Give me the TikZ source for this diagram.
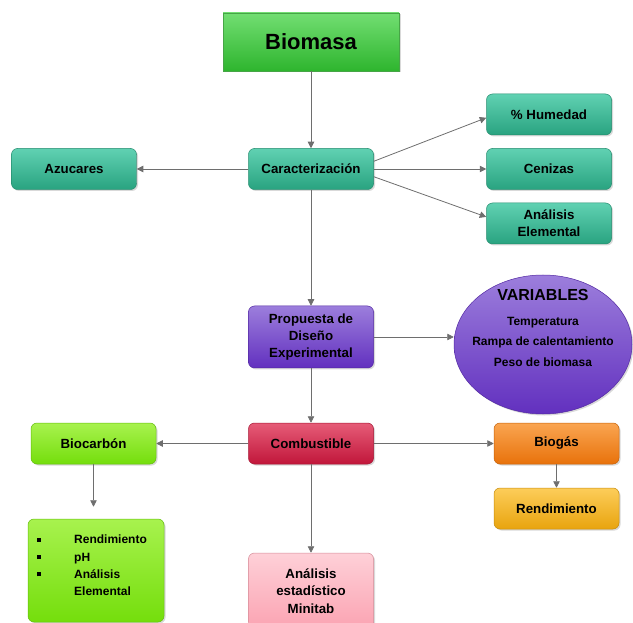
\documentclass[tikz,border=0pt]{standalone}
\usepackage{fontspec}
\setmainfont{Liberation Sans}
\usetikzlibrary{arrows.meta, shadows, shapes.geometric}
\definecolor{linegray}{HTML}{6E6E6E}
\definecolor{greentop}{HTML}{72DE72}
\definecolor{greenbot}{HTML}{2EB52E}
\definecolor{tealtop}{HTML}{60D1B2}
\definecolor{tealbot}{HTML}{29A380}
\definecolor{violettop}{HTML}{9C7EDC}
\definecolor{violetbot}{HTML}{6230BF}
\definecolor{redtop}{HTML}{E65C78}
\definecolor{redbot}{HTML}{C1163A}
\definecolor{limetop}{HTML}{A8F24E}
\definecolor{limebot}{HTML}{74DE0C}
\definecolor{orangetop}{HTML}{FAA551}
\definecolor{orangebot}{HTML}{E8720B}
\definecolor{yellowtop}{HTML}{FDCD5A}
\definecolor{yellowbot}{HTML}{E8A40E}
\definecolor{pinktop}{HTML}{FED0D8}
\definecolor{pinkbot}{HTML}{FBA3B2}
\tikzset{
  box/.style={rounded corners=6pt, top color=#1top, bottom color=#1bot,
    draw=#1bot!85!black, line width=0.5pt, minimum width=125pt,
    minimum height=41pt, align=center, inner sep=2pt,
    drop shadow={shadow xshift=1.5pt, shadow yshift=-1.5pt, opacity=0.3}},
  link/.style={draw=linegray, line width=0.8pt, -{Triangle[length=6.5pt,width=6.5pt]}}
}

\begin{document}
\begin{tikzpicture}[x=1pt, y=-1pt, font=\bfseries\fontsize{13.3}{17}\selectfont]
  \useasboundingbox (0,0) rectangle (633,623);
  \node[box=green, rounded corners=0pt, minimum width=176pt, minimum height=58pt,
    draw=greenbot!70!gray, font=\bfseries\fontsize{22}{26}\selectfont] (biomasa) at (311,42) {Biomasa};
  \node[box=teal] (carac) at (311,169) {Caracterización};
  \node[box=teal] (azucares) at (74,169) {Azucares};
  \node[box=teal] (humedad) at (549,114.5) {\% Humedad};
  \node[box=teal] (cenizas) at (549,169) {Cenizas};
  \node[box=teal] (elemental) at (549,223.5) {Análisis\\Elemental};
  \node[box=violet, minimum height=62pt] (propuesta) at (311,337)
    {Propuesta de\\Diseño\\Experimental};
  \node[box=violet, ellipse, minimum width=178pt, minimum height=139pt] (variables)
    at (543,344.5) {};
  \node[align=center, font=\bfseries\fontsize{12}{20.5}\selectfont] (vartext) at (543,328)
    {{\fontsize{16}{19}\selectfont VARIABLES}\\[4pt]Temperatura\\Rampa de calentamiento\\Peso de biomasa};
  \node[box=red] (combust) at (311,443.5) {Combustible};
  \node[box=lime] (biocarbon) at (93.5,443.5) {Biocarbón};
  \node[box=orange] (biogas) at (556.5,443.5) {Biogás};
  \node[box=yellow] (rendim) at (556.5,508.5) {Rendimiento};
  \node[box=lime, minimum width=136pt, minimum height=103pt] (propiedades) at (96,570.5) {};
  \node[anchor=north west, inner sep=0pt, font=\bfseries\fontsize{12}{17.3}\selectfont]
    (listtext) at (37,531.4)
    {\begin{tabular}{@{}l@{\hspace{33pt}}l@{}}
      \rule[2pt]{4pt}{4pt} & Rendimiento\\
      \rule[2pt]{4pt}{4pt} & pH\\
      \rule[2pt]{4pt}{4pt} & Análisis\\
                           & Elemental
    \end{tabular}};
  \node[box=pink, minimum height=76pt, font=\bfseries\fontsize{13.3}{17.5}\selectfont]
    (estadistico) at (311,591) {Análisis\\estadístico\\Minitab};

  \draw[link] (biomasa) -- (carac);
  \draw[link] (carac) -- (azucares);
  \draw[link] (carac.7) -- (humedad.183);
  \draw[link] (carac) -- (cenizas);
  \draw[link] (carac.-7) -- (elemental.174);
  \draw[link] (carac) -- (propuesta);
  \draw[link] (propuesta.east) -- (propuesta.east -| variables.west);
  \draw[link] (propuesta) -- (combust);
  \draw[link] (combust) -- (biocarbon);
  \draw[link] (combust) -- (biogas);
  \draw[link] (combust) -- (estadistico);
  \draw[link, shorten >=12pt] (biocarbon.south) -- (biocarbon.south |- propiedades.north);
  \draw[link] (biogas) -- (rendim);
\end{tikzpicture}
\end{document}
